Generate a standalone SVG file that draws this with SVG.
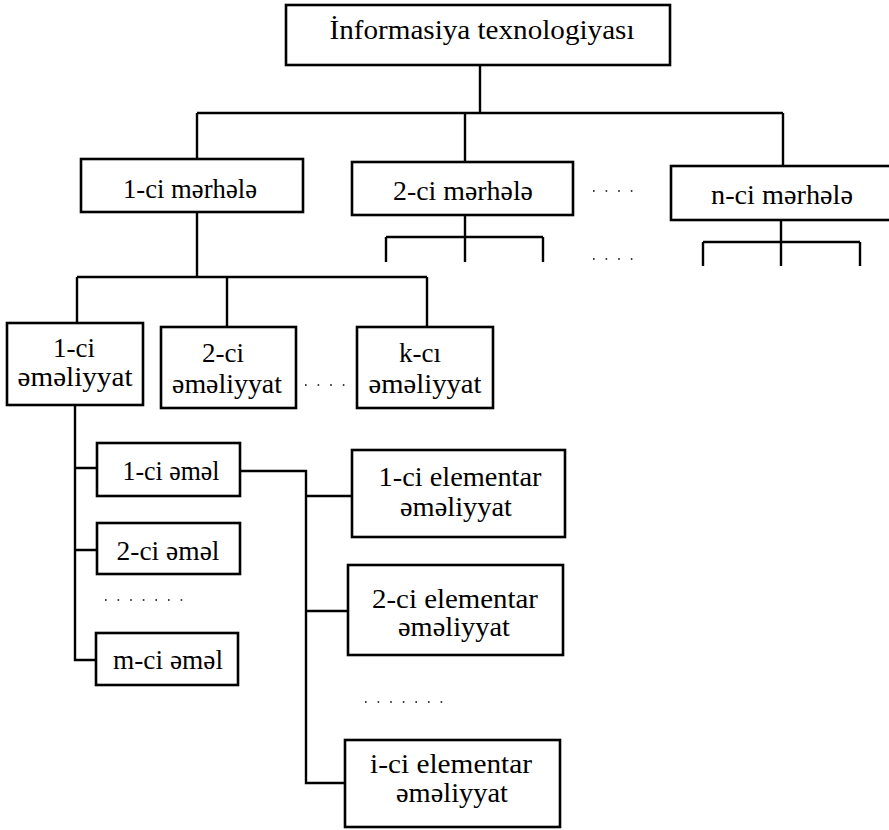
<svg xmlns="http://www.w3.org/2000/svg" width="889" height="830" viewBox="0 0 889 830">
<style>
.box{fill:#fff;stroke:#000;stroke-width:2.6}
.ln{fill:none;stroke:#000;stroke-width:2.4}
.dot{fill:none;stroke:#000;stroke-width:1.6;stroke-dasharray:1.6 11}
text{font-family:"Liberation Serif","DejaVu Serif",serif;font-size:27px;fill:#000;text-anchor:middle}
</style>
<rect width="889" height="830" fill="#fff"/>
<g id="connectors">
<path class="ln" d="M480 65V113M197 113H783M197 113V159M465 113V162M783 113V166"/>
<path class="ln" d="M465 215V237M386 237H543M386 237V262M465 237V262M543 237V262"/>
<path class="ln" d="M781 220V242M703 242H860M703 242V266M781 242V266M860 242V266"/>
<path class="ln" d="M197 212V277M77 277H427M77 277V323M227 277V327M427 277V327"/>
<path class="ln" d="M75 405V660H96M75 468H97M75 550H97"/>
<path class="ln" d="M240 471H306V783H345M306 496H352M306 611H348"/>
<path class="dot" d="M593 191H640M593 259H640M305 385H352M105 600H190M365 702H450"/>
</g>
<g id="n-top"><rect class="box" x="286" y="5" width="384" height="60"/><text x="482" y="39" textLength="305" lengthAdjust="spacingAndGlyphs">İnformasiya texnologiyası</text></g>
<g id="n-stage1"><rect class="box" x="81" y="159" width="222" height="53"/><text x="190" y="198" textLength="134" lengthAdjust="spacingAndGlyphs">1-ci mərhələ</text></g>
<g id="n-stage2"><rect class="box" x="352" y="162" width="221" height="53"/><text x="463" y="200" textLength="140" lengthAdjust="spacingAndGlyphs">2-ci mərhələ</text></g>
<g id="n-stagen"><rect class="box" x="671" y="166" width="230" height="54"/><text x="782" y="204" textLength="142" lengthAdjust="spacingAndGlyphs">n-ci mərhələ</text></g>
<g id="n-op1"><rect class="box" x="7" y="323" width="136" height="82"/><text x="74" y="357">1-ci</text><text x="75" y="386" textLength="115" lengthAdjust="spacingAndGlyphs">əməliyyat</text></g>
<g id="n-op2"><rect class="box" x="161" y="327" width="135" height="81"/><text x="223" y="362">2-ci</text><text x="227" y="393" textLength="110" lengthAdjust="spacingAndGlyphs">əməliyyat</text></g>
<g id="n-opk"><rect class="box" x="357" y="327" width="136" height="81"/><text x="420" y="362">k-cı</text><text x="425" y="393" textLength="113" lengthAdjust="spacingAndGlyphs">əməliyyat</text></g>
<g id="n-act1"><rect class="box" x="97" y="443" width="143" height="53"/><text x="171" y="480" textLength="97" lengthAdjust="spacingAndGlyphs">1-ci əməl</text></g>
<g id="n-act2"><rect class="box" x="97" y="523" width="143" height="51"/><text x="168" y="560" textLength="103" lengthAdjust="spacingAndGlyphs">2-ci əməl</text></g>
<g id="n-actm"><rect class="box" x="96" y="633" width="142" height="52"/><text x="168" y="669" textLength="110" lengthAdjust="spacingAndGlyphs">m-ci əməl</text></g>
<g id="n-el1"><rect class="box" x="352" y="450" width="213" height="87"/><text x="460" y="486" textLength="163" lengthAdjust="spacingAndGlyphs">1-ci elementar</text><text x="456" y="516" textLength="112" lengthAdjust="spacingAndGlyphs">əməliyyat</text></g>
<g id="n-el2"><rect class="box" x="348" y="565" width="215" height="90"/><text x="455" y="608" textLength="166" lengthAdjust="spacingAndGlyphs">2-ci elementar</text><text x="454" y="636" textLength="112" lengthAdjust="spacingAndGlyphs">əməliyyat</text></g>
<g id="n-eli"><rect class="box" x="345" y="740" width="215" height="87"/><text x="451" y="773" textLength="162" lengthAdjust="spacingAndGlyphs">i-ci elementar</text><text x="452" y="802" textLength="112" lengthAdjust="spacingAndGlyphs">əməliyyat</text></g>
</svg>
